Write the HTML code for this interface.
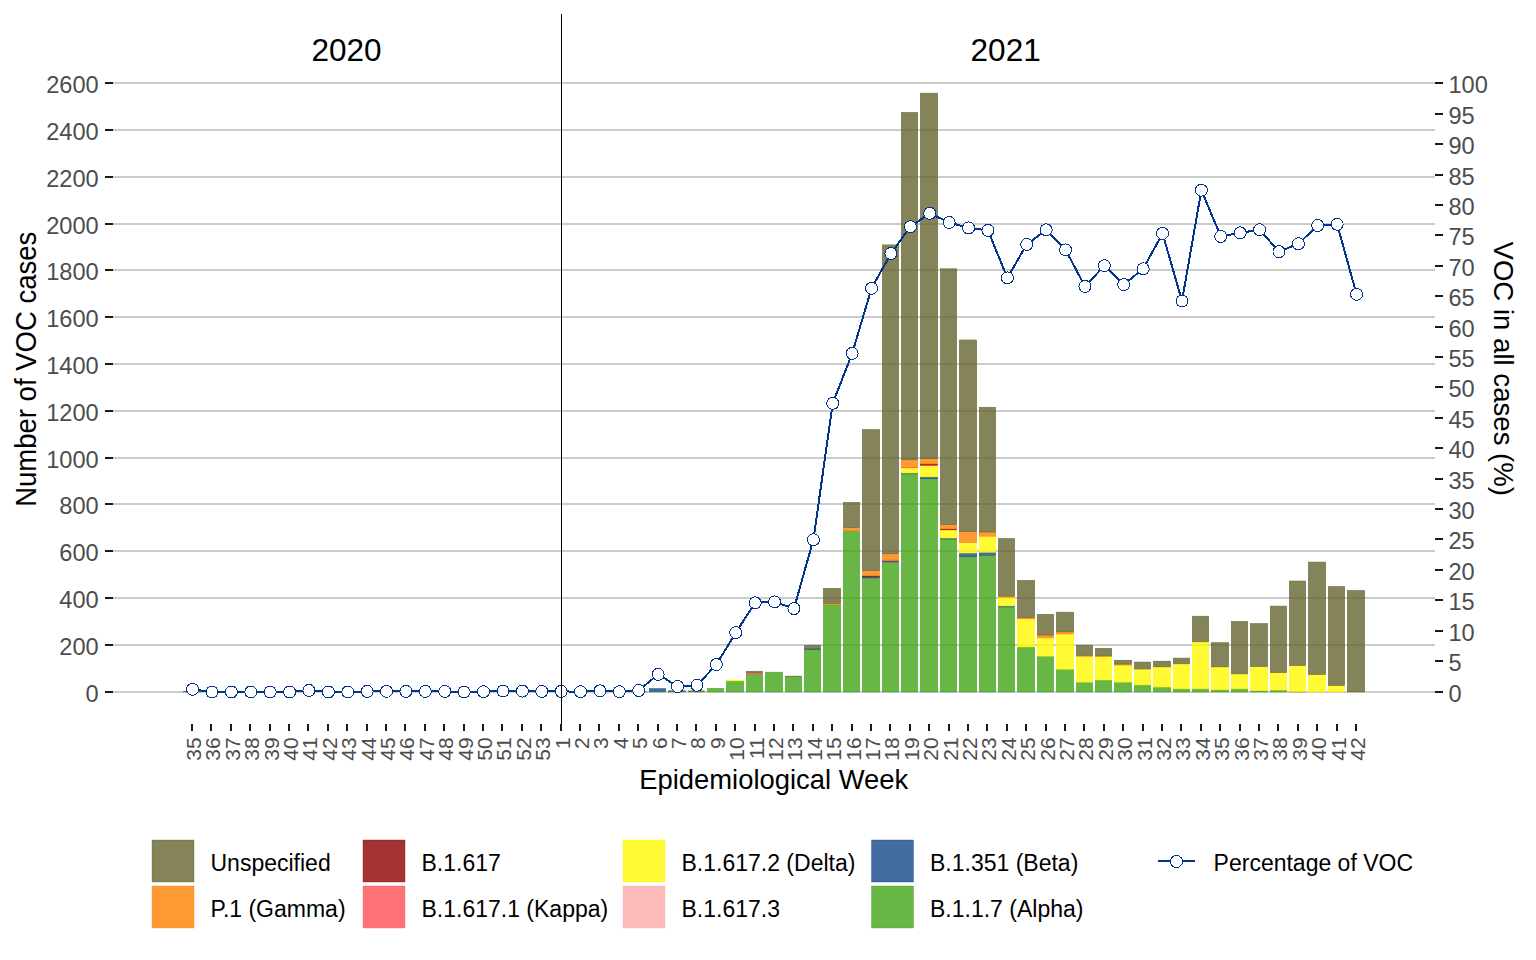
<!DOCTYPE html><html><head><meta charset="utf-8"><style>
html,body{margin:0;padding:0;background:#fff;width:1536px;height:960px;overflow:hidden}
svg{display:block}
text{font-family:"Liberation Sans",sans-serif}
</style></head><body>
<svg width="1536" height="960" viewBox="0 0 1536 960">
<rect width="1536" height="960" fill="#fff"/>
<line x1="113" y1="692" x2="1435" y2="692" stroke="#cccccc" stroke-width="2"/>
<line x1="113" y1="645" x2="1435" y2="645" stroke="#cccccc" stroke-width="2"/>
<line x1="113" y1="598" x2="1435" y2="598" stroke="#cccccc" stroke-width="2"/>
<line x1="113" y1="551" x2="1435" y2="551" stroke="#cccccc" stroke-width="2"/>
<line x1="113" y1="504" x2="1435" y2="504" stroke="#cccccc" stroke-width="2"/>
<line x1="113" y1="458" x2="1435" y2="458" stroke="#cccccc" stroke-width="2"/>
<line x1="113" y1="411" x2="1435" y2="411" stroke="#cccccc" stroke-width="2"/>
<line x1="113" y1="364" x2="1435" y2="364" stroke="#cccccc" stroke-width="2"/>
<line x1="113" y1="317" x2="1435" y2="317" stroke="#cccccc" stroke-width="2"/>
<line x1="113" y1="270" x2="1435" y2="270" stroke="#cccccc" stroke-width="2"/>
<line x1="113" y1="224" x2="1435" y2="224" stroke="#cccccc" stroke-width="2"/>
<line x1="113" y1="177" x2="1435" y2="177" stroke="#cccccc" stroke-width="2"/>
<line x1="113" y1="130" x2="1435" y2="130" stroke="#cccccc" stroke-width="2"/>
<line x1="113" y1="83" x2="1435" y2="83" stroke="#cccccc" stroke-width="2"/>
<rect x="183.2" y="691.3" width="17.6" height="0.7" fill="#656431" fill-opacity="0.8" stroke="#656431" stroke-width="0.4"/>
<rect x="629.2" y="691.53" width="17.6" height="0.47" fill="#42a417" fill-opacity="0.8" stroke="#42a417" stroke-width="0.4"/>
<rect x="649.2" y="691.3" width="16.6" height="0.7" fill="#42a417" fill-opacity="0.8" stroke="#42a417" stroke-width="0.4"/>
<rect x="649.2" y="688.49" width="16.6" height="2.81" fill="#13468a" fill-opacity="0.8" stroke="#13468a" stroke-width="0.4"/>
<rect x="668.2" y="691.3" width="17.6" height="0.7" fill="#42a417" fill-opacity="0.8" stroke="#42a417" stroke-width="0.4"/>
<rect x="668.2" y="690.83" width="17.6" height="0.47" fill="#13468a" fill-opacity="0.8" stroke="#13468a" stroke-width="0.4"/>
<rect x="688.2" y="691.3" width="16.6" height="0.7" fill="#42a417" fill-opacity="0.8" stroke="#42a417" stroke-width="0.4"/>
<rect x="688.2" y="690.83" width="16.6" height="0.47" fill="#656431" fill-opacity="0.8" stroke="#656431" stroke-width="0.4"/>
<rect x="707.2" y="688.25" width="16.6" height="3.75" fill="#42a417" fill-opacity="0.8" stroke="#42a417" stroke-width="0.4"/>
<rect x="726.2" y="680.99" width="17.6" height="11.01" fill="#42a417" fill-opacity="0.8" stroke="#42a417" stroke-width="0.4"/>
<rect x="726.2" y="680.05" width="17.6" height="0.94" fill="#fff900" fill-opacity="0.8" stroke="#fff900" stroke-width="0.4"/>
<rect x="746.2" y="673.96" width="16.6" height="18.04" fill="#42a417" fill-opacity="0.8" stroke="#42a417" stroke-width="0.4"/>
<rect x="746.2" y="672.79" width="16.6" height="1.17" fill="#ff5054" fill-opacity="0.8" stroke="#ff5054" stroke-width="0.4"/>
<rect x="746.2" y="671.15" width="16.6" height="1.64" fill="#656431" fill-opacity="0.8" stroke="#656431" stroke-width="0.4"/>
<rect x="765.2" y="672.09" width="17.6" height="19.91" fill="#42a417" fill-opacity="0.8" stroke="#42a417" stroke-width="0.4"/>
<rect x="785.2" y="676.77" width="16.6" height="15.23" fill="#42a417" fill-opacity="0.8" stroke="#42a417" stroke-width="0.4"/>
<rect x="785.2" y="676.07" width="16.6" height="0.7" fill="#656431" fill-opacity="0.8" stroke="#656431" stroke-width="0.4"/>
<rect x="804.2" y="649.6" width="16.6" height="42.4" fill="#42a417" fill-opacity="0.8" stroke="#42a417" stroke-width="0.4"/>
<rect x="804.2" y="648.67" width="16.6" height="0.94" fill="#13468a" fill-opacity="0.8" stroke="#13468a" stroke-width="0.4"/>
<rect x="804.2" y="645.15" width="16.6" height="3.51" fill="#656431" fill-opacity="0.8" stroke="#656431" stroke-width="0.4"/>
<rect x="823.2" y="604.87" width="17.6" height="87.13" fill="#42a417" fill-opacity="0.8" stroke="#42a417" stroke-width="0.4"/>
<rect x="823.2" y="603.69" width="17.6" height="1.17" fill="#ff8000" fill-opacity="0.8" stroke="#ff8000" stroke-width="0.4"/>
<rect x="823.2" y="588.24" width="17.6" height="15.46" fill="#656431" fill-opacity="0.8" stroke="#656431" stroke-width="0.4"/>
<rect x="843.2" y="530.85" width="16.6" height="161.15" fill="#42a417" fill-opacity="0.8" stroke="#42a417" stroke-width="0.4"/>
<rect x="843.2" y="527.8" width="16.6" height="3.04" fill="#ff8000" fill-opacity="0.8" stroke="#ff8000" stroke-width="0.4"/>
<rect x="843.2" y="502.27" width="16.6" height="25.53" fill="#656431" fill-opacity="0.8" stroke="#656431" stroke-width="0.4"/>
<rect x="862.2" y="577.93" width="17.6" height="114.07" fill="#42a417" fill-opacity="0.8" stroke="#42a417" stroke-width="0.4"/>
<rect x="862.2" y="576.88" width="17.6" height="1.05" fill="#13468a" fill-opacity="0.8" stroke="#13468a" stroke-width="0.4"/>
<rect x="862.2" y="575.87" width="17.6" height="1.01" fill="#8e0000" fill-opacity="0.8" stroke="#8e0000" stroke-width="0.4"/>
<rect x="862.2" y="570.72" width="17.6" height="5.15" fill="#ff8000" fill-opacity="0.8" stroke="#ff8000" stroke-width="0.4"/>
<rect x="862.2" y="429.43" width="17.6" height="141.29" fill="#656431" fill-opacity="0.8" stroke="#656431" stroke-width="0.4"/>
<rect x="882.2" y="562" width="16.6" height="130" fill="#42a417" fill-opacity="0.8" stroke="#42a417" stroke-width="0.4"/>
<rect x="882.2" y="560.95" width="16.6" height="1.05" fill="#13468a" fill-opacity="0.8" stroke="#13468a" stroke-width="0.4"/>
<rect x="882.2" y="560.06" width="16.6" height="0.89" fill="#ff5054" fill-opacity="0.8" stroke="#ff5054" stroke-width="0.4"/>
<rect x="882.2" y="553.85" width="16.6" height="6.21" fill="#ff8000" fill-opacity="0.8" stroke="#ff8000" stroke-width="0.4"/>
<rect x="882.2" y="244.85" width="16.6" height="309" fill="#656431" fill-opacity="0.8" stroke="#656431" stroke-width="0.4"/>
<rect x="901.2" y="473.93" width="16.6" height="218.07" fill="#42a417" fill-opacity="0.8" stroke="#42a417" stroke-width="0.4"/>
<rect x="901.2" y="473.11" width="16.6" height="0.82" fill="#13468a" fill-opacity="0.8" stroke="#13468a" stroke-width="0.4"/>
<rect x="901.2" y="467.86" width="16.6" height="5.25" fill="#fff900" fill-opacity="0.8" stroke="#fff900" stroke-width="0.4"/>
<rect x="901.2" y="467.28" width="16.6" height="0.59" fill="#ff5054" fill-opacity="0.8" stroke="#ff5054" stroke-width="0.4"/>
<rect x="901.2" y="459.83" width="16.6" height="7.45" fill="#ff8000" fill-opacity="0.8" stroke="#ff8000" stroke-width="0.4"/>
<rect x="901.2" y="112.28" width="16.6" height="347.55" fill="#656431" fill-opacity="0.8" stroke="#656431" stroke-width="0.4"/>
<rect x="920.2" y="478.85" width="17.6" height="213.15" fill="#42a417" fill-opacity="0.8" stroke="#42a417" stroke-width="0.4"/>
<rect x="920.2" y="476.98" width="17.6" height="1.87" fill="#13468a" fill-opacity="0.8" stroke="#13468a" stroke-width="0.4"/>
<rect x="920.2" y="465.73" width="17.6" height="11.24" fill="#fff900" fill-opacity="0.8" stroke="#fff900" stroke-width="0.4"/>
<rect x="920.2" y="465.08" width="17.6" height="0.66" fill="#ff5054" fill-opacity="0.8" stroke="#ff5054" stroke-width="0.4"/>
<rect x="920.2" y="463.98" width="17.6" height="1.1" fill="#8e0000" fill-opacity="0.8" stroke="#8e0000" stroke-width="0.4"/>
<rect x="920.2" y="458.71" width="17.6" height="5.27" fill="#ff8000" fill-opacity="0.8" stroke="#ff8000" stroke-width="0.4"/>
<rect x="920.2" y="93.07" width="17.6" height="365.63" fill="#656431" fill-opacity="0.8" stroke="#656431" stroke-width="0.4"/>
<rect x="940.2" y="539.05" width="16.6" height="152.95" fill="#42a417" fill-opacity="0.8" stroke="#42a417" stroke-width="0.4"/>
<rect x="940.2" y="538.11" width="16.6" height="0.94" fill="#13468a" fill-opacity="0.8" stroke="#13468a" stroke-width="0.4"/>
<rect x="940.2" y="529.91" width="16.6" height="8.2" fill="#fff900" fill-opacity="0.8" stroke="#fff900" stroke-width="0.4"/>
<rect x="940.2" y="528.98" width="16.6" height="0.94" fill="#8e0000" fill-opacity="0.8" stroke="#8e0000" stroke-width="0.4"/>
<rect x="940.2" y="524.76" width="16.6" height="4.22" fill="#ff8000" fill-opacity="0.8" stroke="#ff8000" stroke-width="0.4"/>
<rect x="940.2" y="268.75" width="16.6" height="256.01" fill="#656431" fill-opacity="0.8" stroke="#656431" stroke-width="0.4"/>
<rect x="959.2" y="556.85" width="17.6" height="135.15" fill="#42a417" fill-opacity="0.8" stroke="#42a417" stroke-width="0.4"/>
<rect x="959.2" y="553.1" width="17.6" height="3.75" fill="#13468a" fill-opacity="0.8" stroke="#13468a" stroke-width="0.4"/>
<rect x="959.2" y="542.79" width="17.6" height="10.31" fill="#fff900" fill-opacity="0.8" stroke="#fff900" stroke-width="0.4"/>
<rect x="959.2" y="531.79" width="17.6" height="11.01" fill="#ff8000" fill-opacity="0.8" stroke="#ff8000" stroke-width="0.4"/>
<rect x="959.2" y="339.95" width="17.6" height="191.84" fill="#656431" fill-opacity="0.8" stroke="#656431" stroke-width="0.4"/>
<rect x="979.2" y="555.21" width="16.6" height="136.79" fill="#42a417" fill-opacity="0.8" stroke="#42a417" stroke-width="0.4"/>
<rect x="979.2" y="552.4" width="16.6" height="2.81" fill="#13468a" fill-opacity="0.8" stroke="#13468a" stroke-width="0.4"/>
<rect x="979.2" y="536.24" width="16.6" height="16.16" fill="#fff900" fill-opacity="0.8" stroke="#fff900" stroke-width="0.4"/>
<rect x="979.2" y="532.02" width="16.6" height="4.22" fill="#ff8000" fill-opacity="0.8" stroke="#ff8000" stroke-width="0.4"/>
<rect x="979.2" y="407.18" width="16.6" height="124.85" fill="#656431" fill-opacity="0.8" stroke="#656431" stroke-width="0.4"/>
<rect x="998.2" y="606.97" width="16.6" height="85.03" fill="#42a417" fill-opacity="0.8" stroke="#42a417" stroke-width="0.4"/>
<rect x="998.2" y="606.04" width="16.6" height="0.94" fill="#13468a" fill-opacity="0.8" stroke="#13468a" stroke-width="0.4"/>
<rect x="998.2" y="597.14" width="16.6" height="8.9" fill="#fff900" fill-opacity="0.8" stroke="#fff900" stroke-width="0.4"/>
<rect x="998.2" y="596.2" width="16.6" height="0.94" fill="#ff8000" fill-opacity="0.8" stroke="#ff8000" stroke-width="0.4"/>
<rect x="998.2" y="538.34" width="16.6" height="57.86" fill="#656431" fill-opacity="0.8" stroke="#656431" stroke-width="0.4"/>
<rect x="1017.2" y="647.03" width="17.6" height="44.97" fill="#42a417" fill-opacity="0.8" stroke="#42a417" stroke-width="0.4"/>
<rect x="1017.2" y="618.92" width="17.6" height="28.11" fill="#fff900" fill-opacity="0.8" stroke="#fff900" stroke-width="0.4"/>
<rect x="1017.2" y="617.75" width="17.6" height="1.17" fill="#ff8000" fill-opacity="0.8" stroke="#ff8000" stroke-width="0.4"/>
<rect x="1017.2" y="580.27" width="17.6" height="37.48" fill="#656431" fill-opacity="0.8" stroke="#656431" stroke-width="0.4"/>
<rect x="1037.2" y="656.16" width="16.6" height="35.84" fill="#42a417" fill-opacity="0.8" stroke="#42a417" stroke-width="0.4"/>
<rect x="1037.2" y="637.89" width="16.6" height="18.27" fill="#fff900" fill-opacity="0.8" stroke="#fff900" stroke-width="0.4"/>
<rect x="1037.2" y="635.08" width="16.6" height="2.81" fill="#ff8000" fill-opacity="0.8" stroke="#ff8000" stroke-width="0.4"/>
<rect x="1037.2" y="614.24" width="16.6" height="20.85" fill="#656431" fill-opacity="0.8" stroke="#656431" stroke-width="0.4"/>
<rect x="1056.2" y="669.28" width="17.6" height="22.72" fill="#42a417" fill-opacity="0.8" stroke="#42a417" stroke-width="0.4"/>
<rect x="1056.2" y="634" width="17.6" height="35.28" fill="#fff900" fill-opacity="0.8" stroke="#fff900" stroke-width="0.4"/>
<rect x="1056.2" y="631.9" width="17.6" height="2.11" fill="#ff8000" fill-opacity="0.8" stroke="#ff8000" stroke-width="0.4"/>
<rect x="1056.2" y="612.1" width="17.6" height="19.79" fill="#656431" fill-opacity="0.8" stroke="#656431" stroke-width="0.4"/>
<rect x="1076.2" y="682.16" width="16.6" height="9.84" fill="#42a417" fill-opacity="0.8" stroke="#42a417" stroke-width="0.4"/>
<rect x="1076.2" y="656.4" width="16.6" height="25.77" fill="#fff900" fill-opacity="0.8" stroke="#fff900" stroke-width="0.4"/>
<rect x="1076.2" y="655.69" width="16.6" height="0.7" fill="#ff8000" fill-opacity="0.8" stroke="#ff8000" stroke-width="0.4"/>
<rect x="1076.2" y="645.15" width="16.6" height="10.54" fill="#656431" fill-opacity="0.8" stroke="#656431" stroke-width="0.4"/>
<rect x="1095.2" y="680.05" width="16.6" height="11.95" fill="#42a417" fill-opacity="0.8" stroke="#42a417" stroke-width="0.4"/>
<rect x="1095.2" y="656.63" width="16.6" height="23.42" fill="#fff900" fill-opacity="0.8" stroke="#fff900" stroke-width="0.4"/>
<rect x="1095.2" y="655.93" width="16.6" height="0.7" fill="#ff8000" fill-opacity="0.8" stroke="#ff8000" stroke-width="0.4"/>
<rect x="1095.2" y="648.2" width="16.6" height="7.73" fill="#656431" fill-opacity="0.8" stroke="#656431" stroke-width="0.4"/>
<rect x="1114.2" y="682.16" width="17.6" height="9.84" fill="#42a417" fill-opacity="0.8" stroke="#42a417" stroke-width="0.4"/>
<rect x="1114.2" y="665.06" width="17.6" height="17.1" fill="#fff900" fill-opacity="0.8" stroke="#fff900" stroke-width="0.4"/>
<rect x="1114.2" y="664.13" width="17.6" height="0.94" fill="#ff8000" fill-opacity="0.8" stroke="#ff8000" stroke-width="0.4"/>
<rect x="1114.2" y="660.14" width="17.6" height="3.98" fill="#656431" fill-opacity="0.8" stroke="#656431" stroke-width="0.4"/>
<rect x="1134.2" y="684.97" width="16.6" height="7.03" fill="#42a417" fill-opacity="0.8" stroke="#42a417" stroke-width="0.4"/>
<rect x="1134.2" y="669.05" width="16.6" height="15.93" fill="#fff900" fill-opacity="0.8" stroke="#fff900" stroke-width="0.4"/>
<rect x="1134.2" y="662.02" width="16.6" height="7.03" fill="#656431" fill-opacity="0.8" stroke="#656431" stroke-width="0.4"/>
<rect x="1153.2" y="687.08" width="17.6" height="4.92" fill="#42a417" fill-opacity="0.8" stroke="#42a417" stroke-width="0.4"/>
<rect x="1153.2" y="666.94" width="17.6" height="20.14" fill="#fff900" fill-opacity="0.8" stroke="#fff900" stroke-width="0.4"/>
<rect x="1153.2" y="661.08" width="17.6" height="5.86" fill="#656431" fill-opacity="0.8" stroke="#656431" stroke-width="0.4"/>
<rect x="1173.2" y="688.96" width="16.6" height="3.04" fill="#42a417" fill-opacity="0.8" stroke="#42a417" stroke-width="0.4"/>
<rect x="1173.2" y="663.89" width="16.6" height="25.06" fill="#fff900" fill-opacity="0.8" stroke="#fff900" stroke-width="0.4"/>
<rect x="1173.2" y="658.04" width="16.6" height="5.86" fill="#656431" fill-opacity="0.8" stroke="#656431" stroke-width="0.4"/>
<rect x="1192.2" y="688.96" width="16.6" height="3.04" fill="#42a417" fill-opacity="0.8" stroke="#42a417" stroke-width="0.4"/>
<rect x="1192.2" y="641.87" width="16.6" height="47.08" fill="#fff900" fill-opacity="0.8" stroke="#fff900" stroke-width="0.4"/>
<rect x="1192.2" y="616.11" width="16.6" height="25.77" fill="#656431" fill-opacity="0.8" stroke="#656431" stroke-width="0.4"/>
<rect x="1211.2" y="689.89" width="17.6" height="2.11" fill="#42a417" fill-opacity="0.8" stroke="#42a417" stroke-width="0.4"/>
<rect x="1211.2" y="666.94" width="17.6" height="22.95" fill="#fff900" fill-opacity="0.8" stroke="#fff900" stroke-width="0.4"/>
<rect x="1211.2" y="642.46" width="17.6" height="24.48" fill="#656431" fill-opacity="0.8" stroke="#656431" stroke-width="0.4"/>
<rect x="1231.2" y="688.96" width="16.6" height="3.04" fill="#42a417" fill-opacity="0.8" stroke="#42a417" stroke-width="0.4"/>
<rect x="1231.2" y="673.96" width="16.6" height="14.99" fill="#fff900" fill-opacity="0.8" stroke="#fff900" stroke-width="0.4"/>
<rect x="1231.2" y="621.26" width="16.6" height="52.7" fill="#656431" fill-opacity="0.8" stroke="#656431" stroke-width="0.4"/>
<rect x="1250.2" y="690.83" width="17.6" height="1.17" fill="#42a417" fill-opacity="0.8" stroke="#42a417" stroke-width="0.4"/>
<rect x="1250.2" y="666.7" width="17.6" height="24.13" fill="#fff900" fill-opacity="0.8" stroke="#fff900" stroke-width="0.4"/>
<rect x="1250.2" y="623.37" width="17.6" height="43.33" fill="#656431" fill-opacity="0.8" stroke="#656431" stroke-width="0.4"/>
<rect x="1270.2" y="690.13" width="16.6" height="1.87" fill="#42a417" fill-opacity="0.8" stroke="#42a417" stroke-width="0.4"/>
<rect x="1270.2" y="672.79" width="16.6" height="17.33" fill="#fff900" fill-opacity="0.8" stroke="#fff900" stroke-width="0.4"/>
<rect x="1270.2" y="606.04" width="16.6" height="66.76" fill="#656431" fill-opacity="0.8" stroke="#656431" stroke-width="0.4"/>
<rect x="1289.2" y="691.77" width="16.6" height="0.23" fill="#42a417" fill-opacity="0.8" stroke="#42a417" stroke-width="0.4"/>
<rect x="1289.2" y="665.77" width="16.6" height="26" fill="#fff900" fill-opacity="0.8" stroke="#fff900" stroke-width="0.4"/>
<rect x="1289.2" y="580.97" width="16.6" height="84.79" fill="#656431" fill-opacity="0.8" stroke="#656431" stroke-width="0.4"/>
<rect x="1308.2" y="674.67" width="17.6" height="17.33" fill="#fff900" fill-opacity="0.8" stroke="#fff900" stroke-width="0.4"/>
<rect x="1308.2" y="562" width="17.6" height="112.67" fill="#656431" fill-opacity="0.8" stroke="#656431" stroke-width="0.4"/>
<rect x="1328.2" y="685.68" width="16.6" height="6.32" fill="#fff900" fill-opacity="0.8" stroke="#fff900" stroke-width="0.4"/>
<rect x="1328.2" y="586.36" width="16.6" height="99.31" fill="#656431" fill-opacity="0.8" stroke="#656431" stroke-width="0.4"/>
<rect x="1347.2" y="590.34" width="17.6" height="101.66" fill="#656431" fill-opacity="0.8" stroke="#656431" stroke-width="0.4"/>
<polyline points="192.57,689.26 211.97,692 231.37,692 250.77,692 270.17,692 289.57,692 308.97,690.48 328.37,692 347.77,692 367.17,691.39 386.57,691.39 405.97,691.39 425.37,691.39 444.77,691.39 464.17,692 483.57,691.7 502.97,691.09 522.37,691.09 541.77,691.39 561.17,691.39 580.57,691.7 599.97,690.78 619.37,691.7 638.77,690.48 658.17,674.34 677.57,686.52 696.97,685.3 716.37,664.6 735.77,632.62 755.17,602.78 774.57,601.87 793.97,608.57 813.37,539.75 832.77,403.33 852.17,353.4 871.57,288.23 890.97,253.52 910.37,226.72 929.77,213.33 949.17,222.46 968.57,227.94 987.97,230.38 1007.37,277.88 1026.77,244.38 1046.17,229.77 1065.57,249.87 1084.97,286.41 1104.37,265.7 1123.77,284.58 1143.17,268.75 1162.57,233.42 1181.97,301.02 1201.37,190.18 1220.77,236.47 1240.17,232.81 1259.57,229.77 1278.97,251.69 1298.37,243.78 1317.77,225.51 1337.17,224.29 1356.57,294.32" fill="none" stroke="#02348a" stroke-width="2" stroke-linejoin="round" shape-rendering="crispEdges"/>
<circle cx="192.57" cy="689.26" r="6" fill="#fff" stroke="#02348a" stroke-width="1" shape-rendering="crispEdges"/>
<circle cx="211.97" cy="692" r="6" fill="#fff" stroke="#02348a" stroke-width="1" shape-rendering="crispEdges"/>
<circle cx="231.37" cy="692" r="6" fill="#fff" stroke="#02348a" stroke-width="1" shape-rendering="crispEdges"/>
<circle cx="250.77" cy="692" r="6" fill="#fff" stroke="#02348a" stroke-width="1" shape-rendering="crispEdges"/>
<circle cx="270.17" cy="692" r="6" fill="#fff" stroke="#02348a" stroke-width="1" shape-rendering="crispEdges"/>
<circle cx="289.57" cy="692" r="6" fill="#fff" stroke="#02348a" stroke-width="1" shape-rendering="crispEdges"/>
<circle cx="308.97" cy="690.48" r="6" fill="#fff" stroke="#02348a" stroke-width="1" shape-rendering="crispEdges"/>
<circle cx="328.37" cy="692" r="6" fill="#fff" stroke="#02348a" stroke-width="1" shape-rendering="crispEdges"/>
<circle cx="347.77" cy="692" r="6" fill="#fff" stroke="#02348a" stroke-width="1" shape-rendering="crispEdges"/>
<circle cx="367.17" cy="691.39" r="6" fill="#fff" stroke="#02348a" stroke-width="1" shape-rendering="crispEdges"/>
<circle cx="386.57" cy="691.39" r="6" fill="#fff" stroke="#02348a" stroke-width="1" shape-rendering="crispEdges"/>
<circle cx="405.97" cy="691.39" r="6" fill="#fff" stroke="#02348a" stroke-width="1" shape-rendering="crispEdges"/>
<circle cx="425.37" cy="691.39" r="6" fill="#fff" stroke="#02348a" stroke-width="1" shape-rendering="crispEdges"/>
<circle cx="444.77" cy="691.39" r="6" fill="#fff" stroke="#02348a" stroke-width="1" shape-rendering="crispEdges"/>
<circle cx="464.17" cy="692" r="6" fill="#fff" stroke="#02348a" stroke-width="1" shape-rendering="crispEdges"/>
<circle cx="483.57" cy="691.7" r="6" fill="#fff" stroke="#02348a" stroke-width="1" shape-rendering="crispEdges"/>
<circle cx="502.97" cy="691.09" r="6" fill="#fff" stroke="#02348a" stroke-width="1" shape-rendering="crispEdges"/>
<circle cx="522.37" cy="691.09" r="6" fill="#fff" stroke="#02348a" stroke-width="1" shape-rendering="crispEdges"/>
<circle cx="541.77" cy="691.39" r="6" fill="#fff" stroke="#02348a" stroke-width="1" shape-rendering="crispEdges"/>
<circle cx="561.17" cy="691.39" r="6" fill="#fff" stroke="#02348a" stroke-width="1" shape-rendering="crispEdges"/>
<circle cx="580.57" cy="691.7" r="6" fill="#fff" stroke="#02348a" stroke-width="1" shape-rendering="crispEdges"/>
<circle cx="599.97" cy="690.78" r="6" fill="#fff" stroke="#02348a" stroke-width="1" shape-rendering="crispEdges"/>
<circle cx="619.37" cy="691.7" r="6" fill="#fff" stroke="#02348a" stroke-width="1" shape-rendering="crispEdges"/>
<circle cx="638.77" cy="690.48" r="6" fill="#fff" stroke="#02348a" stroke-width="1" shape-rendering="crispEdges"/>
<circle cx="658.17" cy="674.34" r="6" fill="#fff" stroke="#02348a" stroke-width="1" shape-rendering="crispEdges"/>
<circle cx="677.57" cy="686.52" r="6" fill="#fff" stroke="#02348a" stroke-width="1" shape-rendering="crispEdges"/>
<circle cx="696.97" cy="685.3" r="6" fill="#fff" stroke="#02348a" stroke-width="1" shape-rendering="crispEdges"/>
<circle cx="716.37" cy="664.6" r="6" fill="#fff" stroke="#02348a" stroke-width="1" shape-rendering="crispEdges"/>
<circle cx="735.77" cy="632.62" r="6" fill="#fff" stroke="#02348a" stroke-width="1" shape-rendering="crispEdges"/>
<circle cx="755.17" cy="602.78" r="6" fill="#fff" stroke="#02348a" stroke-width="1" shape-rendering="crispEdges"/>
<circle cx="774.57" cy="601.87" r="6" fill="#fff" stroke="#02348a" stroke-width="1" shape-rendering="crispEdges"/>
<circle cx="793.97" cy="608.57" r="6" fill="#fff" stroke="#02348a" stroke-width="1" shape-rendering="crispEdges"/>
<circle cx="813.37" cy="539.75" r="6" fill="#fff" stroke="#02348a" stroke-width="1" shape-rendering="crispEdges"/>
<circle cx="832.77" cy="403.33" r="6" fill="#fff" stroke="#02348a" stroke-width="1" shape-rendering="crispEdges"/>
<circle cx="852.17" cy="353.4" r="6" fill="#fff" stroke="#02348a" stroke-width="1" shape-rendering="crispEdges"/>
<circle cx="871.57" cy="288.23" r="6" fill="#fff" stroke="#02348a" stroke-width="1" shape-rendering="crispEdges"/>
<circle cx="890.97" cy="253.52" r="6" fill="#fff" stroke="#02348a" stroke-width="1" shape-rendering="crispEdges"/>
<circle cx="910.37" cy="226.72" r="6" fill="#fff" stroke="#02348a" stroke-width="1" shape-rendering="crispEdges"/>
<circle cx="929.77" cy="213.33" r="6" fill="#fff" stroke="#02348a" stroke-width="1" shape-rendering="crispEdges"/>
<circle cx="949.17" cy="222.46" r="6" fill="#fff" stroke="#02348a" stroke-width="1" shape-rendering="crispEdges"/>
<circle cx="968.57" cy="227.94" r="6" fill="#fff" stroke="#02348a" stroke-width="1" shape-rendering="crispEdges"/>
<circle cx="987.97" cy="230.38" r="6" fill="#fff" stroke="#02348a" stroke-width="1" shape-rendering="crispEdges"/>
<circle cx="1007.37" cy="277.88" r="6" fill="#fff" stroke="#02348a" stroke-width="1" shape-rendering="crispEdges"/>
<circle cx="1026.77" cy="244.38" r="6" fill="#fff" stroke="#02348a" stroke-width="1" shape-rendering="crispEdges"/>
<circle cx="1046.17" cy="229.77" r="6" fill="#fff" stroke="#02348a" stroke-width="1" shape-rendering="crispEdges"/>
<circle cx="1065.57" cy="249.87" r="6" fill="#fff" stroke="#02348a" stroke-width="1" shape-rendering="crispEdges"/>
<circle cx="1084.97" cy="286.41" r="6" fill="#fff" stroke="#02348a" stroke-width="1" shape-rendering="crispEdges"/>
<circle cx="1104.37" cy="265.7" r="6" fill="#fff" stroke="#02348a" stroke-width="1" shape-rendering="crispEdges"/>
<circle cx="1123.77" cy="284.58" r="6" fill="#fff" stroke="#02348a" stroke-width="1" shape-rendering="crispEdges"/>
<circle cx="1143.17" cy="268.75" r="6" fill="#fff" stroke="#02348a" stroke-width="1" shape-rendering="crispEdges"/>
<circle cx="1162.57" cy="233.42" r="6" fill="#fff" stroke="#02348a" stroke-width="1" shape-rendering="crispEdges"/>
<circle cx="1181.97" cy="301.02" r="6" fill="#fff" stroke="#02348a" stroke-width="1" shape-rendering="crispEdges"/>
<circle cx="1201.37" cy="190.18" r="6" fill="#fff" stroke="#02348a" stroke-width="1" shape-rendering="crispEdges"/>
<circle cx="1220.77" cy="236.47" r="6" fill="#fff" stroke="#02348a" stroke-width="1" shape-rendering="crispEdges"/>
<circle cx="1240.17" cy="232.81" r="6" fill="#fff" stroke="#02348a" stroke-width="1" shape-rendering="crispEdges"/>
<circle cx="1259.57" cy="229.77" r="6" fill="#fff" stroke="#02348a" stroke-width="1" shape-rendering="crispEdges"/>
<circle cx="1278.97" cy="251.69" r="6" fill="#fff" stroke="#02348a" stroke-width="1" shape-rendering="crispEdges"/>
<circle cx="1298.37" cy="243.78" r="6" fill="#fff" stroke="#02348a" stroke-width="1" shape-rendering="crispEdges"/>
<circle cx="1317.77" cy="225.51" r="6" fill="#fff" stroke="#02348a" stroke-width="1" shape-rendering="crispEdges"/>
<circle cx="1337.17" cy="224.29" r="6" fill="#fff" stroke="#02348a" stroke-width="1" shape-rendering="crispEdges"/>
<circle cx="1356.57" cy="294.32" r="6" fill="#fff" stroke="#02348a" stroke-width="1" shape-rendering="crispEdges"/>
<line x1="561.5" y1="14" x2="561.5" y2="731" stroke="#000" stroke-width="1" shape-rendering="crispEdges"/>
<line x1="105" y1="692" x2="113" y2="692" stroke="#1a1a1a" stroke-width="2"/>
<text x="98.7" y="701.8" font-size="23.6" fill="#4d4d4d" text-anchor="end">0</text>
<line x1="105" y1="645" x2="113" y2="645" stroke="#1a1a1a" stroke-width="2"/>
<text x="98.7" y="654.8" font-size="23.6" fill="#4d4d4d" text-anchor="end">200</text>
<line x1="105" y1="598" x2="113" y2="598" stroke="#1a1a1a" stroke-width="2"/>
<text x="98.7" y="607.8" font-size="23.6" fill="#4d4d4d" text-anchor="end">400</text>
<line x1="105" y1="551" x2="113" y2="551" stroke="#1a1a1a" stroke-width="2"/>
<text x="98.7" y="560.8" font-size="23.6" fill="#4d4d4d" text-anchor="end">600</text>
<line x1="105" y1="504" x2="113" y2="504" stroke="#1a1a1a" stroke-width="2"/>
<text x="98.7" y="513.8" font-size="23.6" fill="#4d4d4d" text-anchor="end">800</text>
<line x1="105" y1="458" x2="113" y2="458" stroke="#1a1a1a" stroke-width="2"/>
<text x="98.7" y="467.8" font-size="23.6" fill="#4d4d4d" text-anchor="end">1000</text>
<line x1="105" y1="411" x2="113" y2="411" stroke="#1a1a1a" stroke-width="2"/>
<text x="98.7" y="420.8" font-size="23.6" fill="#4d4d4d" text-anchor="end">1200</text>
<line x1="105" y1="364" x2="113" y2="364" stroke="#1a1a1a" stroke-width="2"/>
<text x="98.7" y="373.8" font-size="23.6" fill="#4d4d4d" text-anchor="end">1400</text>
<line x1="105" y1="317" x2="113" y2="317" stroke="#1a1a1a" stroke-width="2"/>
<text x="98.7" y="326.8" font-size="23.6" fill="#4d4d4d" text-anchor="end">1600</text>
<line x1="105" y1="270" x2="113" y2="270" stroke="#1a1a1a" stroke-width="2"/>
<text x="98.7" y="279.8" font-size="23.6" fill="#4d4d4d" text-anchor="end">1800</text>
<line x1="105" y1="224" x2="113" y2="224" stroke="#1a1a1a" stroke-width="2"/>
<text x="98.7" y="233.8" font-size="23.6" fill="#4d4d4d" text-anchor="end">2000</text>
<line x1="105" y1="177" x2="113" y2="177" stroke="#1a1a1a" stroke-width="2"/>
<text x="98.7" y="186.8" font-size="23.6" fill="#4d4d4d" text-anchor="end">2200</text>
<line x1="105" y1="130" x2="113" y2="130" stroke="#1a1a1a" stroke-width="2"/>
<text x="98.7" y="139.8" font-size="23.6" fill="#4d4d4d" text-anchor="end">2400</text>
<line x1="105" y1="83" x2="113" y2="83" stroke="#1a1a1a" stroke-width="2"/>
<text x="98.7" y="92.8" font-size="23.6" fill="#4d4d4d" text-anchor="end">2600</text>
<line x1="1435" y1="692" x2="1443" y2="692" stroke="#1a1a1a" stroke-width="2"/>
<text x="1448.4" y="701.8" font-size="23.6" fill="#4d4d4d">0</text>
<line x1="1435" y1="661" x2="1443" y2="661" stroke="#1a1a1a" stroke-width="2"/>
<text x="1448.4" y="670.8" font-size="23.6" fill="#4d4d4d">5</text>
<line x1="1435" y1="631" x2="1443" y2="631" stroke="#1a1a1a" stroke-width="2"/>
<text x="1448.4" y="640.8" font-size="23.6" fill="#4d4d4d">10</text>
<line x1="1435" y1="600" x2="1443" y2="600" stroke="#1a1a1a" stroke-width="2"/>
<text x="1448.4" y="609.8" font-size="23.6" fill="#4d4d4d">15</text>
<line x1="1435" y1="570" x2="1443" y2="570" stroke="#1a1a1a" stroke-width="2"/>
<text x="1448.4" y="579.8" font-size="23.6" fill="#4d4d4d">20</text>
<line x1="1435" y1="539" x2="1443" y2="539" stroke="#1a1a1a" stroke-width="2"/>
<text x="1448.4" y="548.8" font-size="23.6" fill="#4d4d4d">25</text>
<line x1="1435" y1="509" x2="1443" y2="509" stroke="#1a1a1a" stroke-width="2"/>
<text x="1448.4" y="518.8" font-size="23.6" fill="#4d4d4d">30</text>
<line x1="1435" y1="479" x2="1443" y2="479" stroke="#1a1a1a" stroke-width="2"/>
<text x="1448.4" y="488.8" font-size="23.6" fill="#4d4d4d">35</text>
<line x1="1435" y1="448" x2="1443" y2="448" stroke="#1a1a1a" stroke-width="2"/>
<text x="1448.4" y="457.8" font-size="23.6" fill="#4d4d4d">40</text>
<line x1="1435" y1="418" x2="1443" y2="418" stroke="#1a1a1a" stroke-width="2"/>
<text x="1448.4" y="427.8" font-size="23.6" fill="#4d4d4d">45</text>
<line x1="1435" y1="387" x2="1443" y2="387" stroke="#1a1a1a" stroke-width="2"/>
<text x="1448.4" y="396.8" font-size="23.6" fill="#4d4d4d">50</text>
<line x1="1435" y1="357" x2="1443" y2="357" stroke="#1a1a1a" stroke-width="2"/>
<text x="1448.4" y="366.8" font-size="23.6" fill="#4d4d4d">55</text>
<line x1="1435" y1="327" x2="1443" y2="327" stroke="#1a1a1a" stroke-width="2"/>
<text x="1448.4" y="336.8" font-size="23.6" fill="#4d4d4d">60</text>
<line x1="1435" y1="296" x2="1443" y2="296" stroke="#1a1a1a" stroke-width="2"/>
<text x="1448.4" y="305.8" font-size="23.6" fill="#4d4d4d">65</text>
<line x1="1435" y1="266" x2="1443" y2="266" stroke="#1a1a1a" stroke-width="2"/>
<text x="1448.4" y="275.8" font-size="23.6" fill="#4d4d4d">70</text>
<line x1="1435" y1="235" x2="1443" y2="235" stroke="#1a1a1a" stroke-width="2"/>
<text x="1448.4" y="244.8" font-size="23.6" fill="#4d4d4d">75</text>
<line x1="1435" y1="205" x2="1443" y2="205" stroke="#1a1a1a" stroke-width="2"/>
<text x="1448.4" y="214.8" font-size="23.6" fill="#4d4d4d">80</text>
<line x1="1435" y1="175" x2="1443" y2="175" stroke="#1a1a1a" stroke-width="2"/>
<text x="1448.4" y="184.8" font-size="23.6" fill="#4d4d4d">85</text>
<line x1="1435" y1="144" x2="1443" y2="144" stroke="#1a1a1a" stroke-width="2"/>
<text x="1448.4" y="153.8" font-size="23.6" fill="#4d4d4d">90</text>
<line x1="1435" y1="114" x2="1443" y2="114" stroke="#1a1a1a" stroke-width="2"/>
<text x="1448.4" y="123.8" font-size="23.6" fill="#4d4d4d">95</text>
<line x1="1435" y1="83" x2="1443" y2="83" stroke="#1a1a1a" stroke-width="2"/>
<text x="1448.4" y="92.8" font-size="23.6" fill="#4d4d4d">100</text>
<line x1="192" y1="724" x2="192" y2="731" stroke="#1a1a1a" stroke-width="2"/>
<text transform="translate(200.97,737.3) rotate(-90)" font-size="21" fill="#4d4d4d" text-anchor="end">35</text>
<line x1="211" y1="724" x2="211" y2="731" stroke="#1a1a1a" stroke-width="2"/>
<text transform="translate(220.37,737.3) rotate(-90)" font-size="21" fill="#4d4d4d" text-anchor="end">36</text>
<line x1="231" y1="724" x2="231" y2="731" stroke="#1a1a1a" stroke-width="2"/>
<text transform="translate(239.77,737.3) rotate(-90)" font-size="21" fill="#4d4d4d" text-anchor="end">37</text>
<line x1="250" y1="724" x2="250" y2="731" stroke="#1a1a1a" stroke-width="2"/>
<text transform="translate(259.17,737.3) rotate(-90)" font-size="21" fill="#4d4d4d" text-anchor="end">38</text>
<line x1="270" y1="724" x2="270" y2="731" stroke="#1a1a1a" stroke-width="2"/>
<text transform="translate(278.57,737.3) rotate(-90)" font-size="21" fill="#4d4d4d" text-anchor="end">39</text>
<line x1="289" y1="724" x2="289" y2="731" stroke="#1a1a1a" stroke-width="2"/>
<text transform="translate(297.97,737.3) rotate(-90)" font-size="21" fill="#4d4d4d" text-anchor="end">40</text>
<line x1="308" y1="724" x2="308" y2="731" stroke="#1a1a1a" stroke-width="2"/>
<text transform="translate(317.37,737.3) rotate(-90)" font-size="21" fill="#4d4d4d" text-anchor="end">41</text>
<line x1="328" y1="724" x2="328" y2="731" stroke="#1a1a1a" stroke-width="2"/>
<text transform="translate(336.77,737.3) rotate(-90)" font-size="21" fill="#4d4d4d" text-anchor="end">42</text>
<line x1="347" y1="724" x2="347" y2="731" stroke="#1a1a1a" stroke-width="2"/>
<text transform="translate(356.17,737.3) rotate(-90)" font-size="21" fill="#4d4d4d" text-anchor="end">43</text>
<line x1="367" y1="724" x2="367" y2="731" stroke="#1a1a1a" stroke-width="2"/>
<text transform="translate(375.57,737.3) rotate(-90)" font-size="21" fill="#4d4d4d" text-anchor="end">44</text>
<line x1="386" y1="724" x2="386" y2="731" stroke="#1a1a1a" stroke-width="2"/>
<text transform="translate(394.97,737.3) rotate(-90)" font-size="21" fill="#4d4d4d" text-anchor="end">45</text>
<line x1="405" y1="724" x2="405" y2="731" stroke="#1a1a1a" stroke-width="2"/>
<text transform="translate(414.37,737.3) rotate(-90)" font-size="21" fill="#4d4d4d" text-anchor="end">46</text>
<line x1="425" y1="724" x2="425" y2="731" stroke="#1a1a1a" stroke-width="2"/>
<text transform="translate(433.77,737.3) rotate(-90)" font-size="21" fill="#4d4d4d" text-anchor="end">47</text>
<line x1="444" y1="724" x2="444" y2="731" stroke="#1a1a1a" stroke-width="2"/>
<text transform="translate(453.17,737.3) rotate(-90)" font-size="21" fill="#4d4d4d" text-anchor="end">48</text>
<line x1="464" y1="724" x2="464" y2="731" stroke="#1a1a1a" stroke-width="2"/>
<text transform="translate(472.57,737.3) rotate(-90)" font-size="21" fill="#4d4d4d" text-anchor="end">49</text>
<line x1="483" y1="724" x2="483" y2="731" stroke="#1a1a1a" stroke-width="2"/>
<text transform="translate(491.97,737.3) rotate(-90)" font-size="21" fill="#4d4d4d" text-anchor="end">50</text>
<line x1="502" y1="724" x2="502" y2="731" stroke="#1a1a1a" stroke-width="2"/>
<text transform="translate(511.37,737.3) rotate(-90)" font-size="21" fill="#4d4d4d" text-anchor="end">51</text>
<line x1="522" y1="724" x2="522" y2="731" stroke="#1a1a1a" stroke-width="2"/>
<text transform="translate(530.77,737.3) rotate(-90)" font-size="21" fill="#4d4d4d" text-anchor="end">52</text>
<line x1="541" y1="724" x2="541" y2="731" stroke="#1a1a1a" stroke-width="2"/>
<text transform="translate(550.17,737.3) rotate(-90)" font-size="21" fill="#4d4d4d" text-anchor="end">53</text>
<line x1="561" y1="724" x2="561" y2="731" stroke="#1a1a1a" stroke-width="2"/>
<text transform="translate(569.57,737.3) rotate(-90)" font-size="21" fill="#4d4d4d" text-anchor="end">1</text>
<line x1="580" y1="724" x2="580" y2="731" stroke="#1a1a1a" stroke-width="2"/>
<text transform="translate(588.97,737.3) rotate(-90)" font-size="21" fill="#4d4d4d" text-anchor="end">2</text>
<line x1="599" y1="724" x2="599" y2="731" stroke="#1a1a1a" stroke-width="2"/>
<text transform="translate(608.37,737.3) rotate(-90)" font-size="21" fill="#4d4d4d" text-anchor="end">3</text>
<line x1="619" y1="724" x2="619" y2="731" stroke="#1a1a1a" stroke-width="2"/>
<text transform="translate(627.77,737.3) rotate(-90)" font-size="21" fill="#4d4d4d" text-anchor="end">4</text>
<line x1="638" y1="724" x2="638" y2="731" stroke="#1a1a1a" stroke-width="2"/>
<text transform="translate(647.17,737.3) rotate(-90)" font-size="21" fill="#4d4d4d" text-anchor="end">5</text>
<line x1="658" y1="724" x2="658" y2="731" stroke="#1a1a1a" stroke-width="2"/>
<text transform="translate(666.57,737.3) rotate(-90)" font-size="21" fill="#4d4d4d" text-anchor="end">6</text>
<line x1="677" y1="724" x2="677" y2="731" stroke="#1a1a1a" stroke-width="2"/>
<text transform="translate(685.97,737.3) rotate(-90)" font-size="21" fill="#4d4d4d" text-anchor="end">7</text>
<line x1="696" y1="724" x2="696" y2="731" stroke="#1a1a1a" stroke-width="2"/>
<text transform="translate(705.37,737.3) rotate(-90)" font-size="21" fill="#4d4d4d" text-anchor="end">8</text>
<line x1="716" y1="724" x2="716" y2="731" stroke="#1a1a1a" stroke-width="2"/>
<text transform="translate(724.77,737.3) rotate(-90)" font-size="21" fill="#4d4d4d" text-anchor="end">9</text>
<line x1="735" y1="724" x2="735" y2="731" stroke="#1a1a1a" stroke-width="2"/>
<text transform="translate(744.17,737.3) rotate(-90)" font-size="21" fill="#4d4d4d" text-anchor="end">10</text>
<line x1="755" y1="724" x2="755" y2="731" stroke="#1a1a1a" stroke-width="2"/>
<text transform="translate(763.57,737.3) rotate(-90)" font-size="21" fill="#4d4d4d" text-anchor="end">11</text>
<line x1="774" y1="724" x2="774" y2="731" stroke="#1a1a1a" stroke-width="2"/>
<text transform="translate(782.97,737.3) rotate(-90)" font-size="21" fill="#4d4d4d" text-anchor="end">12</text>
<line x1="793" y1="724" x2="793" y2="731" stroke="#1a1a1a" stroke-width="2"/>
<text transform="translate(802.37,737.3) rotate(-90)" font-size="21" fill="#4d4d4d" text-anchor="end">13</text>
<line x1="813" y1="724" x2="813" y2="731" stroke="#1a1a1a" stroke-width="2"/>
<text transform="translate(821.77,737.3) rotate(-90)" font-size="21" fill="#4d4d4d" text-anchor="end">14</text>
<line x1="832" y1="724" x2="832" y2="731" stroke="#1a1a1a" stroke-width="2"/>
<text transform="translate(841.17,737.3) rotate(-90)" font-size="21" fill="#4d4d4d" text-anchor="end">15</text>
<line x1="852" y1="724" x2="852" y2="731" stroke="#1a1a1a" stroke-width="2"/>
<text transform="translate(860.57,737.3) rotate(-90)" font-size="21" fill="#4d4d4d" text-anchor="end">16</text>
<line x1="871" y1="724" x2="871" y2="731" stroke="#1a1a1a" stroke-width="2"/>
<text transform="translate(879.97,737.3) rotate(-90)" font-size="21" fill="#4d4d4d" text-anchor="end">17</text>
<line x1="890" y1="724" x2="890" y2="731" stroke="#1a1a1a" stroke-width="2"/>
<text transform="translate(899.37,737.3) rotate(-90)" font-size="21" fill="#4d4d4d" text-anchor="end">18</text>
<line x1="910" y1="724" x2="910" y2="731" stroke="#1a1a1a" stroke-width="2"/>
<text transform="translate(918.77,737.3) rotate(-90)" font-size="21" fill="#4d4d4d" text-anchor="end">19</text>
<line x1="929" y1="724" x2="929" y2="731" stroke="#1a1a1a" stroke-width="2"/>
<text transform="translate(938.17,737.3) rotate(-90)" font-size="21" fill="#4d4d4d" text-anchor="end">20</text>
<line x1="949" y1="724" x2="949" y2="731" stroke="#1a1a1a" stroke-width="2"/>
<text transform="translate(957.57,737.3) rotate(-90)" font-size="21" fill="#4d4d4d" text-anchor="end">21</text>
<line x1="968" y1="724" x2="968" y2="731" stroke="#1a1a1a" stroke-width="2"/>
<text transform="translate(976.97,737.3) rotate(-90)" font-size="21" fill="#4d4d4d" text-anchor="end">22</text>
<line x1="987" y1="724" x2="987" y2="731" stroke="#1a1a1a" stroke-width="2"/>
<text transform="translate(996.37,737.3) rotate(-90)" font-size="21" fill="#4d4d4d" text-anchor="end">23</text>
<line x1="1007" y1="724" x2="1007" y2="731" stroke="#1a1a1a" stroke-width="2"/>
<text transform="translate(1015.77,737.3) rotate(-90)" font-size="21" fill="#4d4d4d" text-anchor="end">24</text>
<line x1="1026" y1="724" x2="1026" y2="731" stroke="#1a1a1a" stroke-width="2"/>
<text transform="translate(1035.17,737.3) rotate(-90)" font-size="21" fill="#4d4d4d" text-anchor="end">25</text>
<line x1="1046" y1="724" x2="1046" y2="731" stroke="#1a1a1a" stroke-width="2"/>
<text transform="translate(1054.57,737.3) rotate(-90)" font-size="21" fill="#4d4d4d" text-anchor="end">26</text>
<line x1="1065" y1="724" x2="1065" y2="731" stroke="#1a1a1a" stroke-width="2"/>
<text transform="translate(1073.97,737.3) rotate(-90)" font-size="21" fill="#4d4d4d" text-anchor="end">27</text>
<line x1="1084" y1="724" x2="1084" y2="731" stroke="#1a1a1a" stroke-width="2"/>
<text transform="translate(1093.37,737.3) rotate(-90)" font-size="21" fill="#4d4d4d" text-anchor="end">28</text>
<line x1="1104" y1="724" x2="1104" y2="731" stroke="#1a1a1a" stroke-width="2"/>
<text transform="translate(1112.77,737.3) rotate(-90)" font-size="21" fill="#4d4d4d" text-anchor="end">29</text>
<line x1="1123" y1="724" x2="1123" y2="731" stroke="#1a1a1a" stroke-width="2"/>
<text transform="translate(1132.17,737.3) rotate(-90)" font-size="21" fill="#4d4d4d" text-anchor="end">30</text>
<line x1="1143" y1="724" x2="1143" y2="731" stroke="#1a1a1a" stroke-width="2"/>
<text transform="translate(1151.57,737.3) rotate(-90)" font-size="21" fill="#4d4d4d" text-anchor="end">31</text>
<line x1="1162" y1="724" x2="1162" y2="731" stroke="#1a1a1a" stroke-width="2"/>
<text transform="translate(1170.97,737.3) rotate(-90)" font-size="21" fill="#4d4d4d" text-anchor="end">32</text>
<line x1="1181" y1="724" x2="1181" y2="731" stroke="#1a1a1a" stroke-width="2"/>
<text transform="translate(1190.37,737.3) rotate(-90)" font-size="21" fill="#4d4d4d" text-anchor="end">33</text>
<line x1="1201" y1="724" x2="1201" y2="731" stroke="#1a1a1a" stroke-width="2"/>
<text transform="translate(1209.77,737.3) rotate(-90)" font-size="21" fill="#4d4d4d" text-anchor="end">34</text>
<line x1="1220" y1="724" x2="1220" y2="731" stroke="#1a1a1a" stroke-width="2"/>
<text transform="translate(1229.17,737.3) rotate(-90)" font-size="21" fill="#4d4d4d" text-anchor="end">35</text>
<line x1="1240" y1="724" x2="1240" y2="731" stroke="#1a1a1a" stroke-width="2"/>
<text transform="translate(1248.57,737.3) rotate(-90)" font-size="21" fill="#4d4d4d" text-anchor="end">36</text>
<line x1="1259" y1="724" x2="1259" y2="731" stroke="#1a1a1a" stroke-width="2"/>
<text transform="translate(1267.97,737.3) rotate(-90)" font-size="21" fill="#4d4d4d" text-anchor="end">37</text>
<line x1="1278" y1="724" x2="1278" y2="731" stroke="#1a1a1a" stroke-width="2"/>
<text transform="translate(1287.37,737.3) rotate(-90)" font-size="21" fill="#4d4d4d" text-anchor="end">38</text>
<line x1="1298" y1="724" x2="1298" y2="731" stroke="#1a1a1a" stroke-width="2"/>
<text transform="translate(1306.77,737.3) rotate(-90)" font-size="21" fill="#4d4d4d" text-anchor="end">39</text>
<line x1="1317" y1="724" x2="1317" y2="731" stroke="#1a1a1a" stroke-width="2"/>
<text transform="translate(1326.17,737.3) rotate(-90)" font-size="21" fill="#4d4d4d" text-anchor="end">40</text>
<line x1="1337" y1="724" x2="1337" y2="731" stroke="#1a1a1a" stroke-width="2"/>
<text transform="translate(1345.57,737.3) rotate(-90)" font-size="21" fill="#4d4d4d" text-anchor="end">41</text>
<line x1="1356" y1="724" x2="1356" y2="731" stroke="#1a1a1a" stroke-width="2"/>
<text transform="translate(1364.97,737.3) rotate(-90)" font-size="21" fill="#4d4d4d" text-anchor="end">42</text>
<text x="311.5" y="61" font-size="31.5" fill="#000">2020</text>
<text x="970.6" y="61" font-size="31.5" fill="#000">2021</text>
<text x="773.7" y="788.7" font-size="27.4" fill="#000" text-anchor="middle">Epidemiological Week</text>
<text transform="translate(35.8,369.3) rotate(-90) scale(1,1.04)" font-size="27.5" fill="#000" text-anchor="middle">Number of VOC cases</text>
<text transform="translate(1494.4,368.75) rotate(90)" font-size="27.6" fill="#000" text-anchor="middle">VOC in all cases (%)</text>
<rect x="152" y="840" width="42" height="42" fill="#656431" fill-opacity="0.8" stroke="#656431" stroke-width="0.35"/>
<text x="210.5" y="871" font-size="23" fill="#000">Unspecified</text>
<rect x="152" y="886" width="42" height="42" fill="#ff8000" fill-opacity="0.8" stroke="#ff8000" stroke-width="0.35"/>
<text x="210.5" y="917" font-size="23" fill="#000">P.1 (Gamma)</text>
<rect x="363" y="840" width="42" height="42" fill="#8e0000" fill-opacity="0.8" stroke="#8e0000" stroke-width="0.35"/>
<text x="421.5" y="871" font-size="23" fill="#000">B.1.617</text>
<rect x="363" y="886" width="42" height="42" fill="#ff5054" fill-opacity="0.8" stroke="#ff5054" stroke-width="0.35"/>
<text x="421.5" y="917" font-size="23" fill="#000">B.1.617.1 (Kappa)</text>
<rect x="623" y="840" width="42" height="42" fill="#fff900" fill-opacity="0.8" stroke="#fff900" stroke-width="0.35"/>
<text x="681.5" y="871" font-size="23" fill="#000">B.1.617.2 (Delta)</text>
<rect x="623" y="886" width="42" height="42" fill="#ffa9a9" fill-opacity="0.8" stroke="#ffa9a9" stroke-width="0.35"/>
<text x="681.5" y="917" font-size="23" fill="#000">B.1.617.3</text>
<rect x="871.5" y="840" width="42" height="42" fill="#13468a" fill-opacity="0.8" stroke="#13468a" stroke-width="0.35"/>
<text x="930" y="871" font-size="23" fill="#000">B.1.351 (Beta)</text>
<rect x="871.5" y="886" width="42" height="42" fill="#42a417" fill-opacity="0.8" stroke="#42a417" stroke-width="0.35"/>
<text x="930" y="917" font-size="23" fill="#000">B.1.1.7 (Alpha)</text>
<line x1="1158" y1="861" x2="1195" y2="861" stroke="#02348a" stroke-width="2" shape-rendering="crispEdges"/>
<circle cx="1176.5" cy="861.5" r="6" fill="#fff" stroke="#02348a" stroke-width="1" shape-rendering="crispEdges"/>
<text x="1213.6" y="871" font-size="23" fill="#000">Percentage of VOC</text>
</svg></body></html>
